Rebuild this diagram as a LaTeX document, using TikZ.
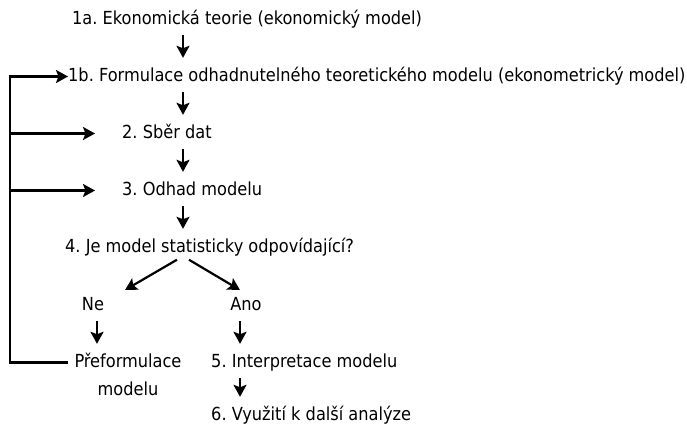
\documentclass[tikz,border=0pt]{standalone}
\usepackage{fontspec}
\setmainfont{DejaVu Sans Condensed}
\usetikzlibrary{arrows.meta,calc}
\begin{document}
\frenchspacing
\begin{tikzpicture}[x=1pt,y=-1pt,
  lbl/.style={anchor=base west,inner sep=0pt,text height=13pt,text depth=4pt,font=\fontsize{18}{21}\selectfont},
  clbl/.style={anchor=base,inner sep=0pt,text height=13pt,text depth=4pt,font=\fontsize{18}{21}\selectfont},
  arr/.style={line width=2.2pt,-{Stealth[length=12pt,width=13pt,inset=2.5pt]}},
  varr/.style={arr,shorten <=7pt,shorten >=10pt},
  ln/.style={line width=2.2pt}]
\useasboundingbox (0,0) rectangle (687,429);
\node[lbl] (a1) at (72,24) {1a. Ekonomická teorie (ekonomický model)};
\node[lbl] (b1) at (68,81) {1b. Formulace odhadnutelného teoretického modelu (ekonometrický model)};
\node[lbl] (s2) at (122,138) {2. Sběr dat};
\node[lbl] (s3) at (122,195) {3. Odhad modelu};
\node[lbl] (s4) at (65,252) {4. Je model statisticky odpovídající?};
\node[clbl] (ne) at (93,310) {Ne};
\node[clbl] (ano) at (246,310) {Ano};
\node[clbl] (pre) at (128,367) {Přeformulace};
\node[clbl] (pre2) at (128,395) {modelu};
\node[lbl] (s5) at (211,367) {5. Interpretace modelu};
\node[lbl] (s6) at (211,420) {6. Využití k další analýze};
\coordinate (cx) at (183,0);
\coordinate (nx) at (97,0);
\coordinate (ax) at (240,0);
\coordinate (lx) at (10,0);
\coordinate (neend) at (125,290);
\coordinate (anoend) at (240,290);
\draw[varr] (a1.south -| cx) -- (b1.north -| cx);
\draw[varr] (b1.south -| cx) -- (s2.north -| cx);
\draw[varr] (s2.south -| cx) -- (s3.north -| cx);
\draw[varr] (s3.south -| cx) -- (s4.north -| cx);
\draw[arr,shorten <=7pt] (s4.south -| cx) -- (neend);
\draw[arr,shorten <=7pt] (s4.south -| cx) -- (anoend);
\draw[varr] (ne.south -| nx) -- (pre.north -| nx);
\draw[varr] (ano.south -| ax) -- (s5.north -| ax);
\draw[varr] (s5.south -| ax) -- (s6.north -| ax);
\draw[arr,line join=miter] ([xshift=-6pt]pre.west) -- (pre.west -| lx) |- (b1.west);
\draw[arr,shorten >=27pt] (lx |- s2.west) -- (s2.west);
\draw[arr,shorten >=27pt] (lx |- s3.west) -- (s3.west);
\end{tikzpicture}
\end{document}
